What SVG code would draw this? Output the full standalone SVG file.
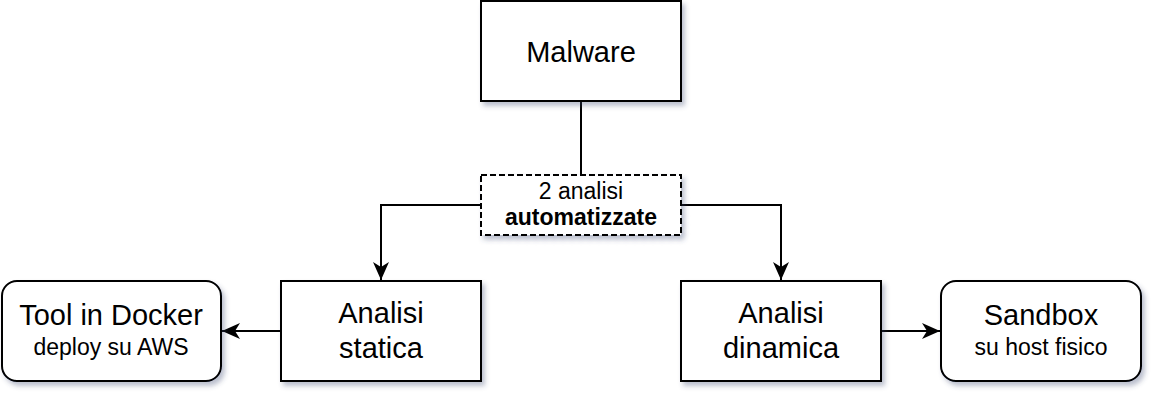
<svg xmlns="http://www.w3.org/2000/svg" width="1164" height="404" viewBox="0 0 1164 404">
<defs>
<filter id="sh" x="-10%" y="-10%" width="130%" height="140%">
<feDropShadow dx="3" dy="4" stdDeviation="2.5" flood-color="#3c4673" flood-opacity="0.35"/>
</filter>
<marker id="arr" markerUnits="userSpaceOnUse" markerWidth="19" markerHeight="18" refX="18" refY="8" orient="auto">
<path d="M0,0 L18,8 L0,16 L5,8 Z" fill="#000"/>
</marker>
<style>
.box{fill:#fff;stroke:#000;stroke-width:2;filter:url(#sh)}
.dash{stroke-dasharray:6 3}
.t{font-family:"Liberation Sans",Arial,sans-serif;fill:#000;text-anchor:middle}
.big{font-size:29px}
.small{font-size:23px}
.mid{font-size:23px}
.conn{fill:none;stroke:#000;stroke-width:2}
</style>
</defs>
<g id="connectors">
<path class="conn" d="M581,101 L581,175"/>
<path class="conn" d="M481,205 L381,205 L381,280" marker-end="url(#arr)"/>
<path class="conn" d="M681,205 L781,205 L781,280" marker-end="url(#arr)"/>
<path class="conn" d="M281,331 L222,331" marker-end="url(#arr)"/>
<path class="conn" d="M881,331 L940,331" marker-end="url(#arr)"/>
</g>
<g id="malware">
<rect class="box" x="481" y="1" width="200" height="100"/>
<text class="t big" x="581" y="62">Malware</text>
</g>
<g id="analisi-auto">
<rect class="box dash" x="481" y="175" width="200" height="60"/>
<text class="t mid" x="581" y="199">2 analisi</text>
<text class="t mid" x="581" y="225" font-weight="bold">automatizzate</text>
</g>
<g id="analisi-statica">
<rect class="box" x="281" y="281" width="200" height="100"/>
<text class="t big" x="381" y="323">Analisi</text>
<text class="t big" x="381" y="358">statica</text>
</g>
<g id="analisi-dinamica">
<rect class="box" x="681" y="281" width="200" height="100"/>
<text class="t big" x="781" y="323">Analisi</text>
<text class="t big" x="781" y="358">dinamica</text>
</g>
<g id="tool-docker">
<rect class="box" x="2" y="281" width="219" height="100" rx="15"/>
<text class="t big" x="111" y="325">Tool in Docker</text>
<text class="t small" x="111" y="355">deploy su AWS</text>
</g>
<g id="sandbox">
<rect class="box" x="941" y="281" width="200" height="100" rx="15"/>
<text class="t big" x="1041" y="325">Sandbox</text>
<text class="t small" x="1041" y="355">su host fisico</text>
</g>
</svg>
